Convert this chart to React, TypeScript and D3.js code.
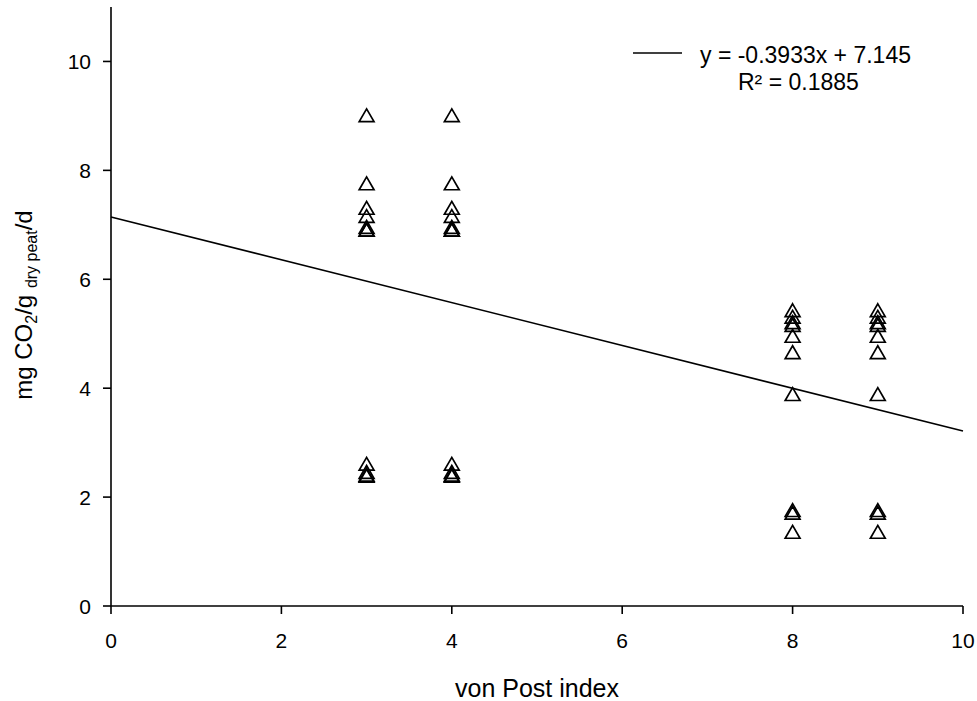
import React from "react";
import * as d3 from "d3";

const xTicks = [0, 2, 4, 6, 8, 10];
const yTicks = [0, 2, 4, 6, 8, 10];
const xValues = [3, 4, 8, 9];
const groupA = [9.0, 7.75, 7.3, 7.15, 6.95, 6.9, 6.9, 2.6, 2.45, 2.4, 2.38];
const groupB = [5.42, 5.3, 5.2, 5.15, 4.95, 4.65, 3.88, 1.75, 1.7, 1.35];
const slope = -0.3933;
const intercept = 7.145;
const eqText = "y = -0.3933x + 7.145";
const r2Text = "R² = 0.1885";

export default function App() {
  const W = 977, H = 701;
  const x = d3.scaleLinear().domain([0, 10]).range([111, 963]);
  const y = d3.scaleLinear().domain([0, 11]).range([606, 7]);
  const pts: { x: number; y: number }[] = [];
  xValues.forEach((xv) => {
    const arr = xv < 6 ? groupA : groupB;
    arr.forEach((v) => pts.push({ x: xv, y: v }));
  });
  const tri = d3.symbol().type(d3.symbolTriangle).size(95)();
  const line = d3.line<number>().x((d) => x(d)).y((d) => y(slope * d + intercept));
  const font = "Liberation Sans, Arial, sans-serif";
  return (
    <svg width={W} height={H} style={{ position: "absolute", left: 0, top: 0, background: "#fff" }} fontFamily={font}>
      <rect width={W} height={H} fill="#fff" />
      {/* axes */}
      <line x1={x(0)} x2={x(10)} y1={y(0)} y2={y(0)} stroke="#000" strokeWidth={1.6} />
      <line x1={x(0)} x2={x(0)} y1={y(0)} y2={y(11)} stroke="#000" strokeWidth={1.6} />
      {xTicks.map((t) => (
        <g key={"x" + t}>
          <line x1={x(t)} x2={x(t)} y1={y(0)} y2={y(0) + 8} stroke="#000" strokeWidth={1.6} />
          <text x={x(t)} y={648} textAnchor="middle" fontSize={21} fill="#000">{t}</text>
        </g>
      ))}
      {yTicks.map((t) => (
        <g key={"y" + t}>
          <line x1={x(0) - 8} x2={x(0)} y1={y(t)} y2={y(t)} stroke="#000" strokeWidth={1.6} />
          <text x={91} y={y(t) + 7.5} textAnchor="end" fontSize={21} fill="#000">{t}</text>
        </g>
      ))}
      <text x={537} y={697} textAnchor="middle" fontSize={25} fill="#000">von Post index</text>
      <text transform="translate(32,305) rotate(-90)" textAnchor="middle" fontSize={24} fill="#000">
        mg CO<tspan fontSize={16} dy={5}>2</tspan>
        <tspan dy={-5}>/g </tspan>
        <tspan fontSize={16} dy={5}>dry peat</tspan>
        <tspan dy={-5}>/d</tspan>
      </text>
      {/* regression line */}
      <path d={line([0, 10]) || ""} fill="none" stroke="#000" strokeWidth={1.6} />
      {/* points */}
      {pts.map((p, i) => (
        <path key={i} d={tri || ""} transform={`translate(${x(p.x)},${y(p.y) + 1.5})`} fill="none" stroke="#000" strokeWidth={1.7} />
      ))}
      {/* legend */}
      <line x1={633} x2={682} y1={53} y2={53} stroke="#000" strokeWidth={1.6} />
      <text x={700} y={63} fontSize={23} fill="#000">{eqText}</text>
      <text x={738} y={90} fontSize={23} fill="#000">{r2Text}</text>
    </svg>
  );
}
